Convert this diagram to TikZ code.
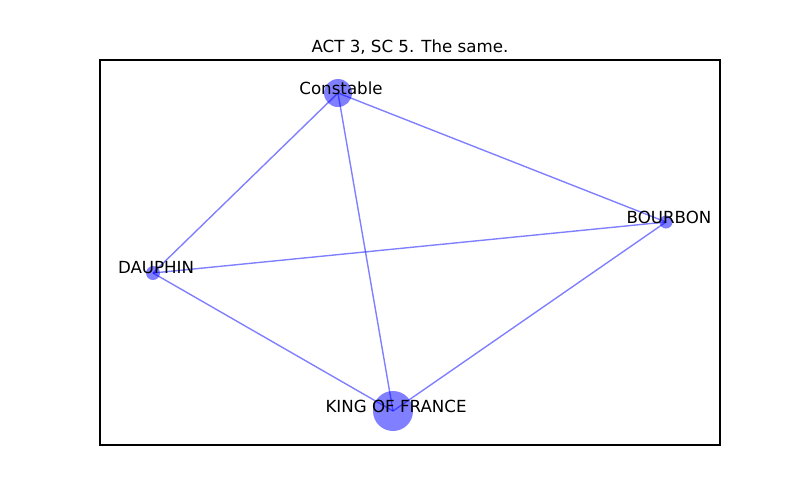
\documentclass[tikz,border=0pt]{standalone}
\usepackage{fontspec}
\setmainfont{DejaVu Sans}
\begin{document}
\begin{tikzpicture}[x=0.72pt,y=-0.72pt,
  edge/.style={draw=blue,draw opacity=0.5,line width=1pt},
  vert/.style={circle,fill=blue,fill opacity=0.5,inner sep=0pt,draw=none},
  lbl/.style={font=\fontsize{12pt}{14pt}\selectfont,inner sep=0pt,anchor=center},
  nlbl/.style={lbl,yshift=3.6pt,xshift=2.2pt},
  frame/.style={draw=black,line width=0.8pt}]
\useasboundingbox (0,0) rectangle (800,500);
\coordinate (con) at (338,93);
\coordinate (bou) at (666,222);
\coordinate (dau) at (153,273);
\coordinate (kin) at (393,411);
\draw[frame] (100,60) rectangle (720,445);
\node[lbl] (title) at (410,47) {ACT 3, SC 5. The same.};
\draw[edge] (con) -- (dau);
\draw[edge] (con) -- (kin);
\draw[edge] (con) -- (bou);
\draw[edge] (dau) -- (bou);
\draw[edge] (dau) -- (kin);
\draw[edge] (kin) -- (bou);
\node[vert,minimum size=28*0.72pt] (conc) at (con) {};
\node[vert,minimum size=13*0.72pt] (bouc) at (bou) {};
\node[vert,minimum size=14*0.72pt] (dauc) at (dau) {};
\node[vert,minimum size=40*0.72pt] (kinc) at (kin) {};
\node[nlbl] (conl) at (con) {Constable};
\node[nlbl] (boul) at (bou) {BOURBON};
\node[nlbl] (daul) at (dau) {DAUPHIN};
\node[nlbl] (kinl) at (kin) {KING OF FRANCE};
\end{tikzpicture}
\end{document}
